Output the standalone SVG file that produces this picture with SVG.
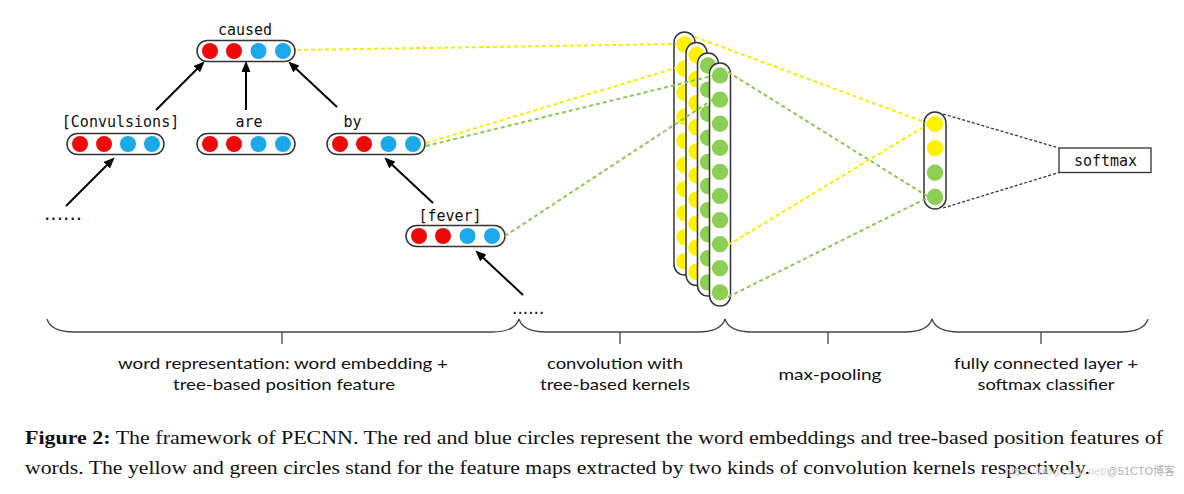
<svg xmlns="http://www.w3.org/2000/svg" width="1184" height="494" viewBox="0 0 1184 494">
<defs>
<style>
.box{fill:#fff;stroke:#333;stroke-width:1.5}
.r{fill:#ee0a0a}.b{fill:#1ca9ea}.y{fill:#fff200}.g{fill:#8dcf55}
.lbl{font-family:"DejaVu Sans Mono","Liberation Mono",monospace;font-size:15px;fill:#111;text-anchor:middle}
.dots{font-family:"DejaVu Sans",sans-serif;fill:#111}
.arr{stroke:#000;stroke-width:2;fill:none;marker-end:url(#ah)}
.dy{stroke:#f4ee00;stroke-width:2;stroke-dasharray:4 3;fill:none}
.dg{stroke:#8cc850;stroke-width:2;stroke-dasharray:4 3;fill:none}
.dk{stroke:#333;stroke-width:1.3;stroke-dasharray:3 2;fill:none}
.brace{fill:none;stroke:#444;stroke-width:1.3}
.cat{font-family:Lato,"Open Sans","Liberation Sans",sans-serif;font-size:16px;fill:#111;text-anchor:middle}
.cap{font-family:"Liberation Serif","Times New Roman",serif;font-size:19px;fill:#111}
</style>
<marker id="ah" markerWidth="11" markerHeight="9" refX="8" refY="4.5" orient="auto" markerUnits="userSpaceOnUse">
<path d="M0,0 L11,4.5 L0,9 Z" fill="#000"/>
</marker>
</defs>
<rect width="1184" height="494" fill="#fff"/>

<g id="node-caused">
<text class="lbl" x="245" y="35">caused</text>
<rect class="box" x="197" y="40.5" width="98" height="21" rx="10.5"/>
<circle class="r" cx="210" cy="51" r="8"/><circle class="r" cx="234" cy="51" r="8"/><circle class="b" cx="258.5" cy="51" r="8"/><circle class="b" cx="283" cy="51" r="8"/>
</g>
<g id="node-convulsions">
<text class="lbl" x="120.5" y="127">[Convulsions]</text>
<rect class="box" x="67" y="133.5" width="97" height="21" rx="10.5"/>
<circle class="r" cx="80" cy="144" r="8"/><circle class="r" cx="104" cy="144" r="8"/><circle class="b" cx="128" cy="144" r="8"/><circle class="b" cx="152" cy="144" r="8"/>
</g>
<g id="node-are">
<text class="lbl" x="249" y="127">are</text>
<rect class="box" x="197" y="133.5" width="98" height="21" rx="10.5"/>
<circle class="r" cx="210" cy="144" r="8"/><circle class="r" cx="234" cy="144" r="8"/><circle class="b" cx="258.5" cy="144" r="8"/><circle class="b" cx="283" cy="144" r="8"/>
</g>
<g id="node-by">
<text class="lbl" x="352.5" y="127">by</text>
<rect class="box" x="327" y="133.5" width="98" height="21" rx="10.5"/>
<circle class="r" cx="340" cy="144" r="8"/><circle class="r" cx="364" cy="144" r="8"/><circle class="b" cx="388.5" cy="144" r="8"/><circle class="b" cx="413" cy="144" r="8"/>
</g>
<g id="node-fever">
<text class="lbl" x="450" y="221">[fever]</text>
<rect class="box" x="406" y="225.5" width="99" height="21" rx="10.5"/>
<circle class="r" cx="419" cy="236" r="8"/><circle class="r" cx="443" cy="236" r="8"/><circle class="b" cx="467.5" cy="236" r="8"/><circle class="b" cx="492" cy="236" r="8"/>
</g>
<g id="node-dots-left"><text class="dots" x="44" y="220" font-size="20">......</text></g>
<g id="node-dots-right"><text class="dots" x="512" y="314" font-size="17">......</text></g>

<g id="node-conv">
<g id="conv-col1">
<rect class="box" x="674" y="32" width="21" height="243" rx="10.5"/>
<g class="y"><circle cx="684.5" cy="44.5" r="8.2"/><circle cx="684.5" cy="68.6" r="8.2"/><circle cx="684.5" cy="92.7" r="8.2"/><circle cx="684.5" cy="116.8" r="8.2"/><circle cx="684.5" cy="140.9" r="8.2"/><circle cx="684.5" cy="165" r="8.2"/><circle cx="684.5" cy="189.1" r="8.2"/><circle cx="684.5" cy="213.2" r="8.2"/><circle cx="684.5" cy="237.3" r="8.2"/><circle cx="684.5" cy="261.4" r="8.2"/></g>
</g>
<g id="conv-col2">
<rect class="box" x="686" y="42.5" width="21" height="243" rx="10.5"/>
<g class="y"><circle cx="696.5" cy="55" r="8.2"/><circle cx="696.5" cy="79.1" r="8.2"/><circle cx="696.5" cy="103.2" r="8.2"/><circle cx="696.5" cy="127.3" r="8.2"/><circle cx="696.5" cy="151.4" r="8.2"/><circle cx="696.5" cy="175.5" r="8.2"/><circle cx="696.5" cy="199.6" r="8.2"/><circle cx="696.5" cy="223.7" r="8.2"/><circle cx="696.5" cy="247.8" r="8.2"/><circle cx="696.5" cy="271.9" r="8.2"/></g>
</g>
<g id="conv-col3">
<rect class="box" x="697.5" y="53" width="21" height="243" rx="10.5"/>
<g class="g"><circle cx="708" cy="65.5" r="8.2"/><circle cx="708" cy="89.6" r="8.2"/><circle cx="708" cy="113.7" r="8.2"/><circle cx="708" cy="137.8" r="8.2"/><circle cx="708" cy="161.9" r="8.2"/><circle cx="708" cy="186" r="8.2"/><circle cx="708" cy="210.1" r="8.2"/><circle cx="708" cy="234.2" r="8.2"/><circle cx="708" cy="258.3" r="8.2"/><circle cx="708" cy="282.4" r="8.2"/></g>
</g>
<g id="conv-col4">
<rect class="box" x="709.5" y="63" width="21" height="243" rx="10.5"/>
<g class="g"><circle cx="720" cy="75.5" r="8.2"/><circle cx="720" cy="99.6" r="8.2"/><circle cx="720" cy="123.7" r="8.2"/><circle cx="720" cy="147.8" r="8.2"/><circle cx="720" cy="171.9" r="8.2"/><circle cx="720" cy="196" r="8.2"/><circle cx="720" cy="220.1" r="8.2"/><circle cx="720" cy="244.2" r="8.2"/><circle cx="720" cy="268.3" r="8.2"/><circle cx="720" cy="292.4" r="8.2"/></g>
</g>
</g>

<g id="node-pool">
<rect class="box" x="924" y="112" width="22" height="97" rx="11"/>
<circle class="y" cx="935" cy="124" r="8.2"/><circle class="y" cx="935" cy="148.3" r="8.2"/><circle class="g" cx="935" cy="172.7" r="8.2"/><circle class="g" cx="935" cy="197" r="8.2"/>
</g>

<g id="node-softmax">
<rect x="1059" y="148" width="92" height="24.5" fill="#fff" stroke="#333" stroke-width="1.3"/>
<text class="lbl" x="1105.5" y="166">softmax</text>
</g>

<g id="connectors">
<line class="arr" x1="156" y1="110" x2="202.5" y2="63.5"/>
<line class="arr" x1="246" y1="110" x2="246" y2="64"/>
<line class="arr" x1="337" y1="107" x2="290.5" y2="63.5"/>
<line class="arr" x1="66" y1="206" x2="112.5" y2="159.5"/>
<line class="arr" x1="433" y1="203" x2="386.5" y2="159.5"/>
<line class="arr" x1="523" y1="295" x2="477.5" y2="252.5"/>
<line class="dy" x1="297" y1="50" x2="676" y2="44"/>
<line class="dy" x1="426" y1="143" x2="676" y2="68"/>
<line class="dg" x1="426" y1="146" x2="712" y2="76"/>
<line class="dg" x1="505" y1="236" x2="712" y2="100"/>
<line class="dy" x1="695" y1="37" x2="927" y2="123"/>
<line class="dg" x1="728" y1="72" x2="927" y2="196"/>
<line class="dy" x1="728" y1="245" x2="927" y2="125"/>
<line class="dg" x1="728" y1="297" x2="927" y2="198"/>
<line class="dk" x1="943" y1="114" x2="1059" y2="148"/>
<line class="dk" x1="943" y1="208" x2="1059" y2="172.5"/>
</g>

<g id="braces">
<path class="brace" d="M47,319 Q51,332 74,332 L492,332 Q515,332 519,319 M282,332 L282,344"/>
<path class="brace" d="M519,319 Q523,332 546,332 L698,332 Q721,332 725,319 M620,332 L620,344"/>
<path class="brace" d="M725,319 Q729,332 752,332 L905,332 Q928,332 932,319 M828,332 L828,344"/>
<path class="brace" d="M932,319 Q936,332 959,332 L1121,332 Q1144,332 1148,319 M1041,332 L1041,344"/>
</g>

<g id="labels">
<text class="cat" x="283" y="369" textLength="330" lengthAdjust="spacingAndGlyphs">word representation: word embedding +</text>
<text class="cat" x="284" y="390" textLength="222" lengthAdjust="spacingAndGlyphs">tree-based position feature</text>
<text class="cat" x="615" y="369" textLength="136" lengthAdjust="spacingAndGlyphs">convolution with</text>
<text class="cat" x="615" y="390" textLength="150" lengthAdjust="spacingAndGlyphs">tree-based kernels</text>
<text class="cat" x="830" y="380" textLength="103" lengthAdjust="spacingAndGlyphs">max-pooling</text>
<text class="cat" x="1046" y="369" textLength="184" lengthAdjust="spacingAndGlyphs">fully connected layer +</text>
<text class="cat" x="1046" y="390" textLength="137" lengthAdjust="spacingAndGlyphs">softmax classifier</text>
</g>

<g id="caption">
<text class="cap" x="25" y="444" textLength="1138" lengthAdjust="spacingAndGlyphs"><tspan font-weight="bold">Figure 2:</tspan> The framework of PECNN. The red and blue circles represent the word embeddings and tree-based position features of</text>
<text class="cap" x="25" y="474" textLength="1065" lengthAdjust="spacingAndGlyphs">words. The yellow and green circles stand for the feature maps extracted by two kinds of convolution kernels respectively.</text>
<text x="1005" y="475" font-family="'Liberation Sans','Noto Sans CJK SC',sans-serif" font-size="11" fill="#d4d4d4">https://blog.csdn.net/<tspan fill="#b0b0b0">@51CTO博客</tspan></text>
</g>
</svg>
